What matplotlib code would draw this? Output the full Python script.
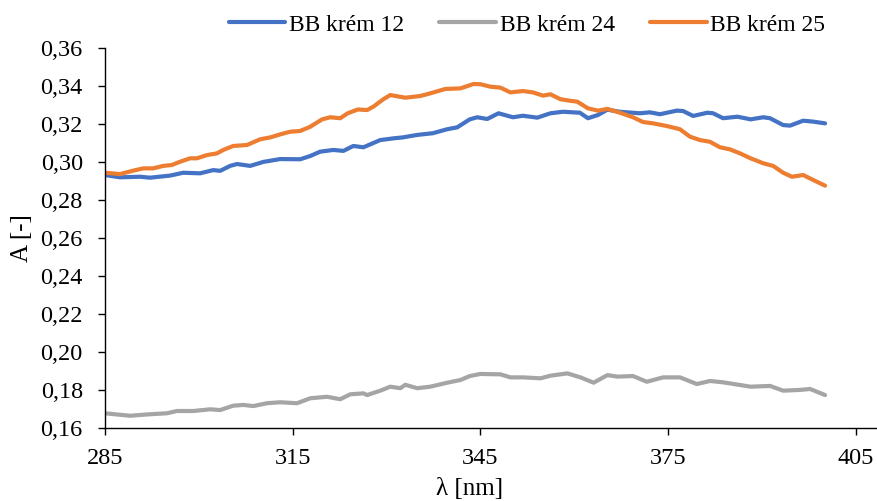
import matplotlib
matplotlib.use("Agg")
import matplotlib.pyplot as plt
from matplotlib.ticker import FuncFormatter, MultipleLocator

plt.rcParams['font.family'] = ['Liberation Serif', 'DejaVu Serif']

# BB krém 12 (blue)
wl_12 = [285.0, 287.4, 290.6, 292.2, 295.4, 297.5, 300.2, 302.3, 303.4, 305.0, 306.1, 308.2,
         310.3, 313.0, 316.2, 317.8, 319.4, 321.5, 323.1, 324.7, 326.3, 329.0, 331.1, 332.6,
         334.9, 337.4, 339.7, 341.3, 343.3, 344.5, 346.1, 347.9, 350.2, 351.8, 354.1, 356.2,
         358.2, 360.9, 362.2, 363.8, 365.3, 367.3, 370.5, 372.1, 373.7, 376.4, 377.4, 379.0,
         381.3, 382.2, 383.8, 386.1, 388.2, 390.2, 391.3, 393.4, 394.5, 396.6, 398.2, 400.1]
a_12 = [0.2933, 0.2921, 0.2924, 0.2919, 0.2930, 0.2945, 0.2942, 0.2959, 0.2955, 0.2981, 0.2991, 0.2981,
        0.3002, 0.3017, 0.3016, 0.3033, 0.3056, 0.3065, 0.3060, 0.3086, 0.3079, 0.3117, 0.3126, 0.3131,
        0.3144, 0.3153, 0.3174, 0.3184, 0.3226, 0.3237, 0.3228, 0.3258, 0.3237, 0.3245, 0.3235, 0.3258,
        0.3266, 0.3261, 0.3232, 0.3249, 0.3277, 0.3266, 0.3258, 0.3263, 0.3253, 0.3272, 0.3270, 0.3244,
        0.3261, 0.3258, 0.3232, 0.3240, 0.3226, 0.3237, 0.3232, 0.3196, 0.3193, 0.3219, 0.3214, 0.3205]

# BB krém 24 (gray)
wl_24 = [285.0, 289.0, 292.2, 294.9, 296.5, 299.1, 301.8, 303.4, 305.5, 307.1, 308.7, 310.9,
         313.0, 315.7, 317.8, 320.5, 322.6, 324.2, 326.3, 326.9, 329.0, 330.6, 332.2, 333.0,
         334.9, 337.0, 339.7, 341.8, 343.3, 345.0, 348.2, 349.8, 351.9, 354.6, 356.2, 358.9,
         361.0, 363.1, 365.3, 366.9, 369.4, 371.6, 374.2, 376.9, 379.6, 381.7, 383.8, 388.2,
         391.3, 393.4, 396.1, 397.7, 400.1]
a_24 = [0.1679, 0.1666, 0.1674, 0.1679, 0.1691, 0.1691, 0.1700, 0.1696, 0.1719, 0.1723, 0.1717, 0.1732,
        0.1737, 0.1732, 0.1758, 0.1766, 0.1753, 0.1779, 0.1784, 0.1775, 0.1798, 0.1819, 0.1811, 0.1829,
        0.1811, 0.1819, 0.1840, 0.1854, 0.1875, 0.1886, 0.1884, 0.1868, 0.1868, 0.1863, 0.1877, 0.1889,
        0.1868, 0.1840, 0.1880, 0.1872, 0.1875, 0.1845, 0.1868, 0.1868, 0.1833, 0.1849, 0.1842, 0.1819,
        0.1823, 0.1798, 0.1802, 0.1807, 0.1775]

# BB krém 25 (orange)
wl_25 = [285.0, 287.4, 289.5, 291.1, 292.7, 294.3, 295.7, 297.0, 298.6, 299.7, 301.3, 302.9,
         303.9, 305.5, 307.7, 309.8, 311.4, 313.0, 314.6, 316.2, 317.8, 319.7, 321.0, 322.6,
         323.8, 325.4, 326.9, 327.9, 329.5, 330.6, 333.0, 335.4, 337.0, 339.4, 341.8, 343.9,
         345.0, 346.6, 348.2, 349.8, 351.8, 353.4, 355.0, 356.2, 357.8, 359.3, 360.5, 362.2,
         363.8, 365.3, 367.3, 369.4, 371.0, 372.6, 374.8, 376.9, 378.5, 380.1, 381.7, 383.3,
         384.9, 386.5, 388.2, 390.2, 391.8, 393.4, 394.8, 396.6, 398.2, 400.1]
a_25 = [0.2945, 0.2938, 0.2956, 0.2968, 0.2968, 0.2981, 0.2986, 0.3003, 0.3021, 0.3021, 0.3038, 0.3047,
        0.3065, 0.3086, 0.3091, 0.3121, 0.3131, 0.3147, 0.3161, 0.3165, 0.3187, 0.3226, 0.3237, 0.3232,
        0.3258, 0.3278, 0.3275, 0.3293, 0.3332, 0.3354, 0.3340, 0.3349, 0.3363, 0.3386, 0.3389, 0.3412,
        0.3411, 0.3398, 0.3393, 0.3368, 0.3375, 0.3368, 0.3351, 0.3358, 0.3332, 0.3324, 0.3319, 0.3284,
        0.3272, 0.3281, 0.3261, 0.3237, 0.3212, 0.3205, 0.3191, 0.3174, 0.3135, 0.3117, 0.3108, 0.3079,
        0.3068, 0.3047, 0.3021, 0.2995, 0.2981, 0.2945, 0.2924, 0.2933, 0.2907, 0.2877]

labels = ["BB krém 12", "BB krém 24", "BB krém 25"]
colors = ["#4472C4", "#A5A5A5", "#ED7D31"]
x_ticks = [285, 315, 345, 375, 405]

W, H = 878, 501
fig = plt.figure(figsize=(W / 100, H / 100), dpi=100)
ax = fig.add_axes([105 / W, 1 - 428.3 / H, (877 - 105) / W, (428.3 - 48.3) / H])

for wl, a, lab, c in zip([wl_12, wl_24, wl_25], [a_12, a_24, a_25], labels, colors):
    ax.plot(wl, a, color=c, lw=3.0, label=lab, solid_capstyle='round', solid_joinstyle='round')

ax.set_xlim(285, 408.4)
ax.set_ylim(0.16, 0.36)
ax.set_xticks(x_ticks)
ax.yaxis.set_major_locator(MultipleLocator(0.02))
ax.yaxis.set_major_formatter(FuncFormatter(lambda v, p: f"{v:.2f}".replace('.', ',')))
ax.tick_params(direction='out', length=5, width=1, labelsize=17.5, colors='black')
ax.tick_params(axis='y', pad=11)
ax.tick_params(axis='x', pad=9)
for s in ['top', 'right']:
    ax.spines[s].set_visible(False)
for s in ['left', 'bottom']:
    ax.spines[s].set_linewidth(1)
    ax.spines[s].set_color('black')

fig.text(470 / W, 1 - 489 / H, "λ [nm]", ha='center', va='center', fontsize=18)
fig.text(22 / W, 1 - 238 / H, "A [-]", ha='center', va='center', rotation=90, fontsize=18)

fig.legend(loc='center', bbox_to_anchor=(527 / W, 1 - 25 / H), ncol=3, frameon=False,
           fontsize=17, handlelength=2.4, handletextpad=0.15, columnspacing=1.5)

fig.savefig("out.png", dpi=100)
